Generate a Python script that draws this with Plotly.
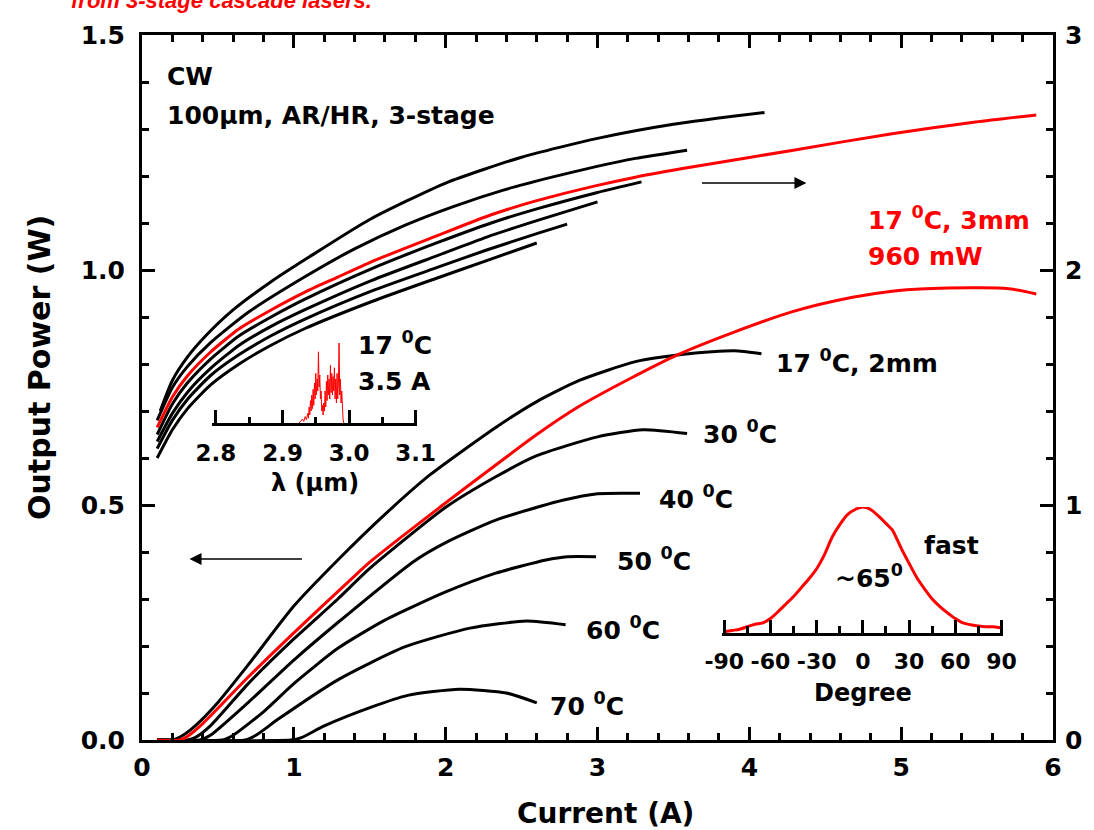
import plotly.graph_objects as go

# ---------------- data ----------------
# Voltage (right axis, V) vs current (A)
v17_i = [0.12, 0.2, 0.3, 0.42, 0.6, 0.85, 1.1, 1.5, 2.0, 2.5, 3.0, 3.5, 4.1]
v17_v = [1.40, 1.53, 1.63, 1.72, 1.83, 1.95, 2.055, 2.215, 2.37, 2.48, 2.56, 2.62, 2.67]
v30_i = [0.1, 0.2, 0.3, 0.45, 0.7, 1.07, 1.4, 1.73, 2.05, 2.38, 2.7, 2.99, 3.25, 3.59]
v30_v = [1.36, 1.50, 1.59, 1.69, 1.82, 1.97, 2.09, 2.19, 2.27, 2.34, 2.395, 2.44, 2.475, 2.51]
v40_i = [0.1, 0.2, 0.3, 0.45, 0.64, 0.85, 1.07, 1.51, 1.94, 2.3, 2.6, 3.0, 3.29]
v40_v = [1.30, 1.43, 1.52, 1.62, 1.72, 1.80, 1.875, 2.005, 2.115, 2.20, 2.26, 2.33, 2.375]
v50_i = [0.1, 0.2, 0.3, 0.45, 0.64, 0.85, 1.07, 1.51, 1.94, 2.27, 2.6, 3.0]
v50_v = [1.27, 1.39, 1.48, 1.58, 1.68, 1.76, 1.83, 1.955, 2.06, 2.14, 2.21, 2.29]
v60_i = [0.1, 0.2, 0.3, 0.45, 0.64, 0.85, 1.07, 1.51, 1.94, 2.27, 2.6, 2.8]
v60_v = [1.24, 1.36, 1.45, 1.55, 1.64, 1.72, 1.79, 1.91, 2.01, 2.085, 2.155, 2.195]
v70_i = [0.1, 0.2, 0.3, 0.45, 0.64, 0.85, 1.07, 1.51, 1.94, 2.27, 2.6]
v70_v = [1.20, 1.32, 1.41, 1.51, 1.60, 1.68, 1.75, 1.865, 1.965, 2.04, 2.115]
v3mm_i = [0.1, 0.2, 0.3, 0.45, 0.64, 0.85, 1.07, 1.29, 1.51, 1.94, 2.3, 2.6, 3.0, 3.25, 3.64,
          4.29, 4.94, 5.49, 5.89]
v3mm_v = [1.33, 1.46, 1.55, 1.65, 1.75, 1.83, 1.905, 1.97, 2.035, 2.145, 2.235, 2.295, 2.36,
          2.395, 2.44, 2.51, 2.58, 2.63, 2.66]

# Output power (left axis, W) vs current (A)
p17_i = [0.1, 0.2, 0.27, 0.35, 0.5, 0.7, 1.0, 1.29, 1.6, 1.9, 2.33, 2.6, 2.88, 3.25, 3.6, 3.9, 4.08]
p17_p = [0.0, 0.0, 0.01, 0.03, 0.08, 0.16, 0.285, 0.383, 0.48, 0.565, 0.665, 0.72, 0.765, 0.805, 0.822, 0.828, 0.822]
p30_i = [0.1, 0.3, 0.35, 0.45, 0.7, 1.0, 1.29, 1.5, 2.0, 2.33, 2.6, 3.0, 3.3, 3.59]
p30_p = [0.0, 0.0, 0.005, 0.03, 0.12, 0.215, 0.30, 0.365, 0.495, 0.56, 0.605, 0.645, 0.66, 0.652]
p40_i = [0.1, 0.38, 0.45, 0.7, 1.0, 1.29, 1.79, 2.0, 2.33, 2.77, 3.0, 3.28]
p40_p = [0.0, 0.0, 0.01, 0.08, 0.17, 0.25, 0.38, 0.42, 0.468, 0.51, 0.524, 0.525]
p50_i = [0.1, 0.53, 0.6, 0.8, 1.0, 1.29, 1.6, 2.0, 2.33, 2.66, 2.8, 2.99]
p50_p = [0.0, 0.0, 0.01, 0.06, 0.12, 0.195, 0.255, 0.315, 0.355, 0.383, 0.39, 0.39]
p60_i = [0.1, 0.68, 0.75, 0.9, 1.29, 1.73, 2.16, 2.53, 2.79]
p60_p = [0.0, 0.0, 0.01, 0.045, 0.128, 0.198, 0.238, 0.253, 0.245]
p70_i = [0.1, 0.98, 1.05, 1.2, 1.51, 1.75, 2.09, 2.4, 2.6]
p70_p = [0.0, 0.0, 0.005, 0.03, 0.07, 0.095, 0.108, 0.1, 0.079]
p3mm_i = [0.1, 0.25, 0.3, 0.4, 0.7, 1.0, 1.38, 1.51, 1.99, 2.33, 2.6, 2.88, 3.25, 3.53, 3.9,
          4.29, 4.68, 4.94, 5.16, 5.49, 5.71, 5.89]
p3mm_p = [0.0, 0.0, 0.008, 0.035, 0.134, 0.228, 0.343, 0.381, 0.502, 0.585, 0.65, 0.71, 0.775,
          0.82, 0.868, 0.912, 0.942, 0.955, 0.96, 0.962, 0.96, 0.949]

# Spectrum inset (17 C, 3.5 A)
spec_lam = [2.925, 2.928, 2.930, 2.932, 2.934, 2.936, 2.938, 2.939, 2.940, 2.941, 2.942, 2.943,
            2.944, 2.945, 2.946, 2.947, 2.948, 2.949, 2.950, 2.951, 2.952, 2.953, 2.954, 2.955,
            2.956, 2.957, 2.958, 2.959, 2.960, 2.961, 2.962, 2.963, 2.964, 2.965, 2.966, 2.967,
            2.968, 2.969, 2.970, 2.971, 2.972, 2.973, 2.974, 2.975, 2.976, 2.977, 2.978, 2.979,
            2.980, 2.981, 2.982, 2.983, 2.984, 2.985, 2.986, 2.987, 2.988, 2.989, 2.990, 2.991,
            2.992]
spec_int = [0.00, 0.03, 0.05, 0.02, 0.08, 0.04, 0.12, 0.06, 0.20, 0.10, 0.28, 0.15,
            0.35, 0.18, 0.42, 0.22, 0.50, 0.30, 0.62, 0.35, 0.55, 0.40, 0.89, 0.45,
            0.60, 0.30, 0.40, 0.15, 0.22, 0.10, 0.25, 0.15, 0.40, 0.20, 0.52, 0.28,
            0.60, 0.35, 0.55, 0.30, 0.72, 0.38, 0.62, 0.35, 0.58, 0.40, 0.69, 0.30,
            0.55, 0.25, 0.62, 0.30, 0.50, 1.00, 0.35, 0.55, 0.25, 0.40, 0.15, 0.05,
            0.00]
spec_ticks = [2.8, 2.9, 3.0, 3.1]
spec_ticktext = ["2.8", "2.9", "3.0", "3.1"]

# Far-field inset (fast axis)
ff_deg = [-90, -85, -80, -75, -70, -65, -60, -55, -50, -45, -40, -35, -30, -25, -20, -15, -10, -5,
          0, 5, 10, 15, 17, 19, 20, 25, 30, 35, 40, 45, 50, 55, 60, 65, 70, 75, 80, 85, 90]
ff_int = [0.01, 0.02, 0.03, 0.05, 0.07, 0.08, 0.115, 0.17, 0.23, 0.29, 0.36, 0.43, 0.51, 0.62,
          0.76, 0.86, 0.94, 0.98, 1.0, 0.98, 0.93, 0.87, 0.845, 0.82, 0.80, 0.67, 0.553, 0.44,
          0.35, 0.27, 0.21, 0.16, 0.115, 0.08, 0.065, 0.055, 0.05, 0.05, 0.04]
ff_ticks = [-90, -60, -30, 0, 30, 60, 90]
ff_ticktext = ["-90", "-60", "-30", "0", "30", "60", "90"]

# ---------------- figure ----------------
FONT = "DejaVu Sans"
BLACK = "#000000"
RED = "#ff0000"

fig = go.Figure()

def add_line(x, y, color, yaxis="y", xaxis="x", width=3, shape="spline", smoothing=0.6):
    fig.add_trace(go.Scatter(x=x, y=y, mode="lines", xaxis=xaxis, yaxis=yaxis,
                             line=dict(color=color, width=width, shape=shape, smoothing=smoothing),
                             hoverinfo="skip", showlegend=False))

for xi, yi in [(v17_i, v17_v), (v30_i, v30_v), (v40_i, v40_v), (v50_i, v50_v),
               (v60_i, v60_v), (v70_i, v70_v)]:
    add_line(xi, yi, BLACK, yaxis="y2")
add_line(v3mm_i, v3mm_v, RED, yaxis="y2")

for xi, yi in [(p17_i, p17_p), (p30_i, p30_p), (p40_i, p40_p), (p50_i, p50_p),
               (p60_i, p60_p), (p70_i, p70_p)]:
    add_line(xi, yi, BLACK)
add_line(p3mm_i, p3mm_p, RED, smoothing=0.9)

add_line(spec_lam, spec_int, RED, xaxis="x3", yaxis="y3", width=1, shape="linear")
add_line(ff_deg, ff_int, RED, xaxis="x4", yaxis="y4", width=3, smoothing=0.8)

W, H = 1094, 830
L, R, T, B = 142, 32, 35, 90
PW, PH = W - L - R, H - T - B

def px(xp):
    return (xp - L) / PW

def py(yp):
    return (H - B - yp) / PH

tickfont = dict(family=FONT, size=25, color=BLACK, weight="bold")
minor_x = dict(dtick=0.2, ticklen=7, tickwidth=2.5, ticks="inside", tickcolor=BLACK)

fig.update_layout(
    width=W, height=H, autosize=False,
    margin=dict(l=L, r=R, t=T, b=B, pad=0),
    paper_bgcolor="white", plot_bgcolor="rgba(0,0,0,0)",
    showlegend=False,
    xaxis=dict(range=[0, 6], dtick=1, tick0=0, ticks="inside", ticklen=13, tickwidth=2.5,
               tickcolor=BLACK, showline=True, linewidth=3, linecolor=BLACK, mirror="ticks",
               showgrid=False, zeroline=False, tickfont=tickfont, minor=minor_x,
               ticklabelstandoff=3),
    yaxis=dict(range=[0, 1.5], dtick=0.5, tick0=0, tickformat=".1f", ticks="inside",
               ticklen=13, tickwidth=2.5, tickcolor=BLACK, showline=True, linewidth=3,
               linecolor=BLACK, showgrid=False, zeroline=False, tickfont=tickfont,
               minor=dict(dtick=0.1, ticklen=7, tickwidth=2.5, ticks="inside", tickcolor=BLACK),
               ticklabelstandoff=9),
    yaxis2=dict(range=[0, 3], dtick=1, tick0=0, overlaying="y", side="right", anchor="x",
                ticks="inside", ticklen=13, tickwidth=2.5, tickcolor=BLACK, showline=True,
                linewidth=3, linecolor=BLACK, showgrid=False, zeroline=False, tickfont=tickfont,
                minor=dict(dtick=0.2, ticklen=7, tickwidth=2.5, ticks="inside", tickcolor=BLACK),
                ticklabelstandoff=4),
    xaxis3=dict(domain=[px(213), px(420)], anchor="y3",
                range=[2.8 - 3.7 / 672, 3.1 + 1.7 / 672],
                tickmode="array", tickvals=spec_ticks, ticktext=spec_ticktext,
                ticks="inside", ticklen=13, tickwidth=2.5, tickcolor=BLACK,
                showline=True, linewidth=2.5, linecolor=BLACK, showgrid=False, zeroline=False,
                tickfont=dict(family=FONT, size=23, color=BLACK, weight="bold"),
                minor=dict(tickmode="array", tickvals=[2.85, 2.95, 3.05], ticklen=6,
                           tickwidth=2.5, ticks="inside", tickcolor=BLACK),
                ticklabelstandoff=8),
    yaxis3=dict(domain=[py(423), py(343)], anchor="x3", range=[0, 1], visible=False),
    xaxis4=dict(domain=[px(728), px(1012)], anchor="y4", range=[-91.3, 91.3],
                tickmode="array", tickvals=ff_ticks, ticktext=ff_ticktext,
                ticks="inside", ticklen=13, tickwidth=2.5, tickcolor=BLACK,
                showline=True, linewidth=2.5, linecolor=BLACK, showgrid=False, zeroline=False,
                tickfont=dict(family=FONT, size=22, color=BLACK, weight="bold"),
                minor=dict(tickmode="array", tickvals=[-75, -45, -15, 15, 45, 75], ticklen=7,
                           tickwidth=2.5, ticks="inside", tickcolor=BLACK),
                ticklabelstandoff=7),
    yaxis4=dict(domain=[py(633), py(507)], anchor="x4", range=[0, 1], visible=False),
)

ann = []

def text(xp, yp, s, size=25, color=BLACK, xanchor="left", angle=0):
    ann.append(dict(x=px(xp), y=py(yp), xref="paper", yref="paper", text=s, showarrow=False,
                    xanchor=xanchor, yanchor="middle", textangle=angle,
                    font=dict(family=FONT, size=size, color=color, weight="bold")))

text(165, 77, "CW")
text(165, 115, "100μm, AR/HR, 3-stage")
text(358, 343, "17 <sup>0</sup>C")
text(358, 381, "3.5 A")
text(873, 218, "17 <sup>0</sup>C, 3mm", color=RED)
text(873, 256, "960 mW", color=RED)
text(780, 361, "17 <sup>0</sup>C, 2mm")
text(707, 433, "30 <sup>0</sup>C")
text(662, 497, "40 <sup>0</sup>C")
text(620, 559, "50 <sup>0</sup>C")
text(588, 628, "60 <sup>0</sup>C")
text(552, 704, "70 <sup>0</sup>C")
text(930, 545, "fast")
text(840, 576, "~65<sup>0</sup>")
text(317, 483, "λ (μm)", size=24, xanchor="center")
text(870, 693, "Degree", size=24, xanchor="center")
text(610, 813, "Current (A)", size=28, xanchor="center")
text(38, 368, "Output Power (W)", size=30, xanchor="center", angle=-90)

# cut-off slide title at the very top
ann.append(dict(x=px(68), y=py(15.5), xref="paper", yref="paper",
                text="from 3-stage cascade lasers.", showarrow=False,
                xanchor="left", yanchor="bottom",
                font=dict(family="Liberation Sans", size=22, color=RED, weight="bold",
                          style="italic")))

# arrows
ann.append(dict(x=(813 - L) / PW * 6, y=(H - B - 183) / PH * 1.5, xref="x", yref="y",
                ax=(706 - L) / PW * 6, ay=(H - B - 183) / PH * 1.5, axref="x", ayref="y",
                showarrow=True, arrowhead=2, arrowsize=1.6, arrowwidth=1.5, arrowcolor=BLACK,
                text=""))
ann.append(dict(x=(190 - L) / PW * 6, y=(H - B - 559) / PH * 1.5, xref="x", yref="y",
                ax=(305 - L) / PW * 6, ay=(H - B - 559) / PH * 1.5, axref="x", ayref="y",
                showarrow=True, arrowhead=2, arrowsize=1.6, arrowwidth=1.5, arrowcolor=BLACK,
                text=""))

fig.update_layout(annotations=ann)

fig.write_html("out.html", config=dict(displayModeBar=False, responsive=False),
               default_width="1094px", default_height="830px",
               post_script="document.body.style.margin='0';document.body.style.overflow='hidden';")
